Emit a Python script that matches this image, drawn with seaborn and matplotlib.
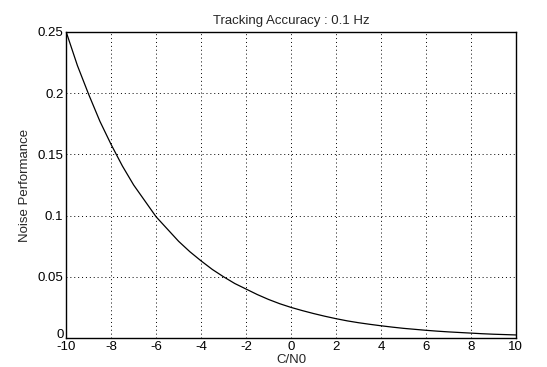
import matplotlib
matplotlib.use("Agg")
import matplotlib.pyplot as plt
import matplotlib.transforms as mtransforms
import seaborn as sns
import pandas as pd

cn0 = [-10, -9.5, -9, -8.5, -8, -7.5, -7, -6.5, -6, -5.5, -5, -4.5, -4, -3.5, -3, -2.5,
       -2, -1.5, -1, -0.5, 0, 0.5, 1, 1.5, 2, 2.5, 3, 3.5, 4, 4.5, 5, 5.5, 6, 6.5,
       7, 7.5, 8, 8.5, 9, 9.5, 10]
noise = [0.25, 0.2225, 0.199, 0.177, 0.158, 0.1405, 0.125, 0.112, 0.099, 0.089, 0.079,
         0.0705, 0.063, 0.056, 0.050, 0.0445, 0.040, 0.0355, 0.0315, 0.028, 0.025,
         0.0224, 0.020, 0.0178, 0.0158, 0.014, 0.0125, 0.0112, 0.010, 0.0089, 0.0079,
         0.0071, 0.0063, 0.0056, 0.0050, 0.0045, 0.0040, 0.0035, 0.0031, 0.0028, 0.0025]
xticks = [-10, -8, -6, -4, -2, 0, 2, 4, 6, 8, 10]
yticks = [0, 0.05, 0.1, 0.15, 0.2, 0.25]
ytick_labels = ["0", "0.05", "0.1", "0.15", "0.2", "0.25"]

sns.set_style("white")
plt.rcParams['font.family'] = ['Liberation Sans', 'DejaVu Sans']

df = pd.DataFrame({"C/N0": cn0, "Noise": noise})
fig = plt.figure(figsize=(5.47, 3.67), dpi=100)
ax = fig.add_axes([0.121, 0.079, 0.822, 0.834])
sns.lineplot(data=df, x="C/N0", y="Noise", ax=ax, color="black", linewidth=0.9)
ax.set_xlim(-10, 10)
ax.set_ylim(0, 0.25)
ax.set_xticks(xticks)
ax.set_xticklabels([str(t) for t in xticks])
ax.set_yticks(yticks)
ax.set_yticklabels(ytick_labels)
ax.grid(True, linestyle=(0, (1, 3)), color="black", linewidth=0.7)
for s in ax.spines.values():
    s.set_color("black")
    s.set_linewidth(1.0)
ax.tick_params(axis="both", labelsize=9.5, colors="black", direction="in", length=3, pad=2)
ax.set_xlabel("C/N0", fontsize=9.5, labelpad=1)
ax.set_ylabel("Noise Performance", fontsize=9.5, labelpad=5)
ax.set_title("Tracking Accuracy : 0.1 Hz", fontsize=9.5, pad=6)

# nudge the "0" y label up slightly so it does not collide with "-10"
lab0 = ax.get_yticklabels()[0]
lab0.set_transform(lab0.get_transform() + mtransforms.ScaledTranslation(0, 3 / 72, fig.dpi_scale_trans))
fig.savefig("out.png", dpi=100)
